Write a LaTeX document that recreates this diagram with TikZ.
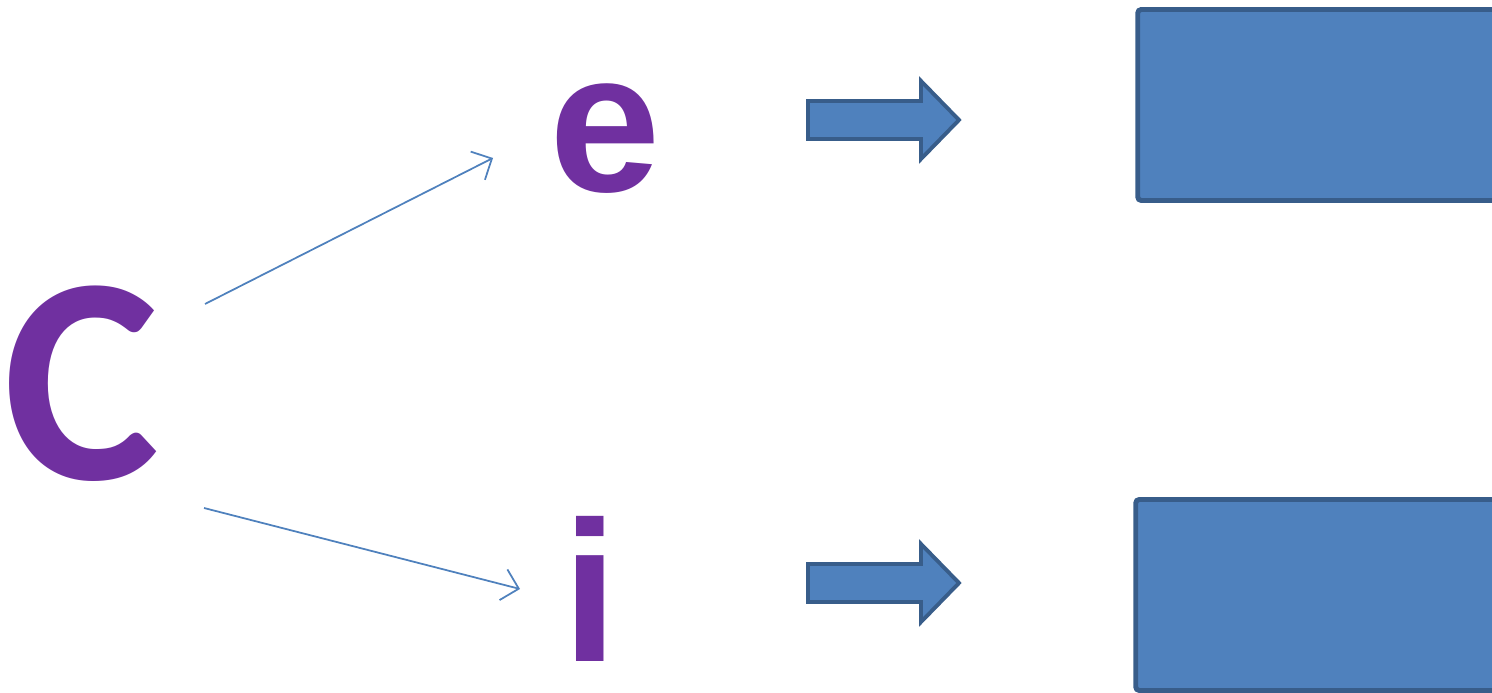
\documentclass[tikz,border=0pt]{standalone}
\usepackage{fontspec}
\usepackage{tikz}
\usetikzlibrary{arrows.meta, positioning, calc}
\newfontfamily\calibrifont{Carlito}
\newfontfamily\arialfont{Liberation Sans}
\definecolor{letterpurple}{HTML}{7030A0}
\definecolor{boxblue}{HTML}{4F81BD}
\definecolor{boxedge}{HTML}{385D8A}

\begin{document}
\begin{tikzpicture}[
    bigletter/.style={inner sep=0pt, text=letterpurple, font=\calibrifont\bfseries\fontsize{84}{90}\selectfont},
    midletter/.style={inner sep=0pt, text=letterpurple, font=\arialfont\bfseries\fontsize{57}{60}\selectfont},
    thinarrow/.style={boxblue, line width=0.5pt, -{Straight Barb[length=4.5pt, width=9pt]}},
    blockarrow/.style={fill=boxblue, draw=boxedge, line width=1.1pt, miter limit=10},
    bluebox/.style={draw=boxedge, fill=boxblue, line width=1.4pt, rounded corners=1pt, inner sep=0pt}
  ]
    \useasboundingbox (0,0) rectangle (14.92,6.93);
    \clip (0,0) rectangle (14.92,6.93);

    % Letters
    \node[bigletter] (C) at (0.82,3.09) {C};
    \node[midletter] (e) at (6.05,5.54) {e};
    \node[midletter] (i) at (5.90,1.04) {i};

    % Thin arrows from C
    \draw[thinarrow] ([xshift=12.3mm, yshift=8.0mm]C.center) -- ([xshift=-11.2mm, yshift=-1.9mm]e.center);
    \draw[thinarrow] ([xshift=12.2mm, yshift=-12.4mm]C.center) -- ([xshift=-7mm]i.center);

    % Block arrows
    \foreach \dy in {0,-4.63} {
      \draw[blockarrow, yshift=\dy cm] (8.08,5.92) -- (9.21,5.92) -- (9.21,6.12) -- (9.59,5.73)
        -- (9.21,5.34) -- (9.21,5.54) -- (8.08,5.54) -- cycle;
    }

    % Boxes (cut off at the right edge)
    \node[bluebox, minimum width=4.625cm, minimum height=1.91cm] (topbox) at (13.69,5.88) {};
    \node[bluebox, minimum width=4.645cm, minimum height=1.91cm] (botbox) at (13.68,0.98) {};
\end{tikzpicture}
\end{document}
